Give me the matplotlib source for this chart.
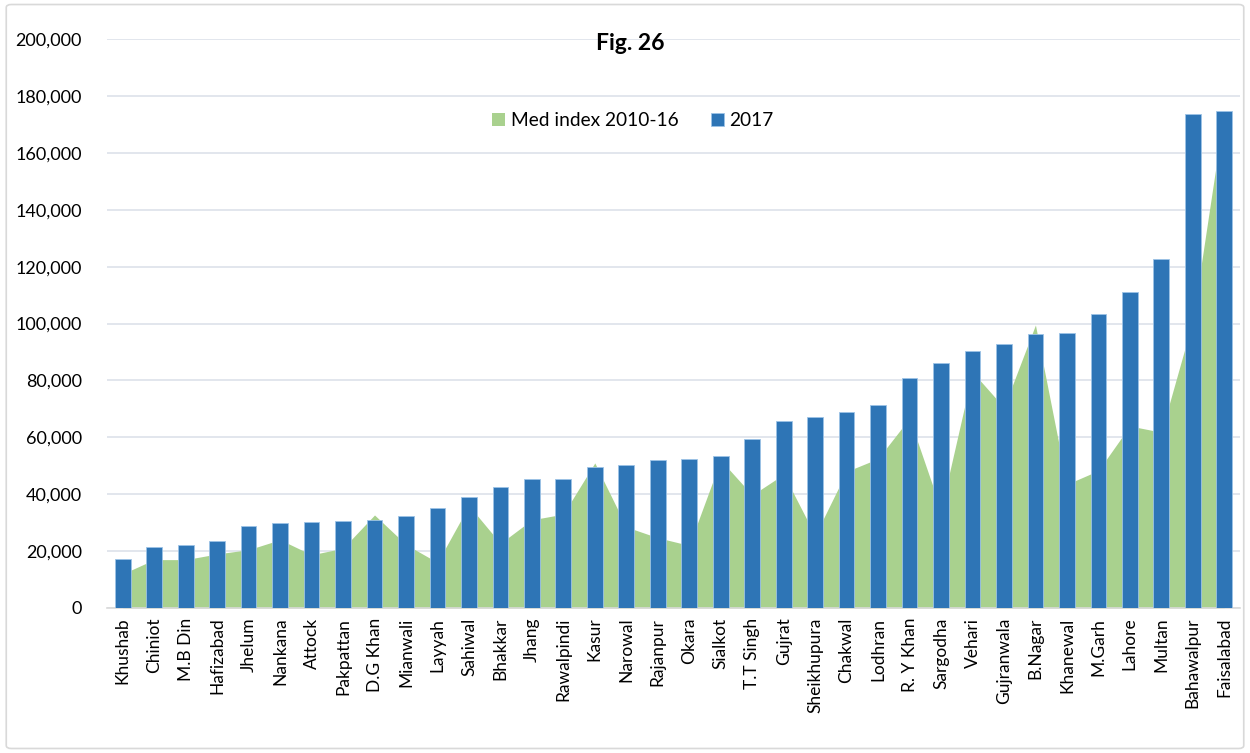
import matplotlib.pyplot as plt
from matplotlib.ticker import FuncFormatter
from matplotlib.patches import FancyBboxPatch

plt.rcParams['font.family'] = ['Lato', 'DejaVu Sans']

# districts, ordered by 2017 value
districts = ["Khushab", "Chiniot", "M.B Din", "Hafizabad", "Jhelum", "Nankana",
             "Attock", "Pakpattan", "D.G Khan", "Mianwali", "Layyah", "Sahiwal",
             "Bhakkar", "Jhang", "Rawalpindi", "Kasur", "Narowal", "Rajanpur",
             "Okara", "Sialkot", "T.T Singh", "Gujrat", "Sheikhupura", "Chakwal",
             "Lodhran", "R. Y Khan", "Sargodha", "Vehari", "Gujranwala", "B.Nagar",
             "Khanewal", "M.Garh", "Lahore", "Multan", "Bahawalpur", "Faisalabad"]

val_2017 = [17200, 21500, 22100, 23500, 28900, 29800, 30200, 30600, 31000, 32200,
            35300, 39100, 42400, 45200, 45300, 49600, 50300, 52000, 52400, 53400,
            59400, 65600, 67000, 68800, 71200, 81000, 86100, 90200, 92800, 96200,
            96800, 103200, 111200, 122700, 173800, 174900]

med_index = [12000, 17000, 17000, 19000, 20500, 24000, 18700, 21000, 32700, 22300,
             16000, 36000, 22700, 31000, 33000, 51000, 28500, 24700, 22000, 52000,
             39700, 47000, 25500, 48000, 52500, 66700, 34500, 83000, 70500, 99500,
             43500, 48300, 64000, 61800, 101000, 174500]

fig = plt.figure(figsize=(12.5, 7.53), dpi=100)
ax = fig.add_axes([0.0856, 0.1926, 0.9064, 0.7554])

x = list(range(len(districts)))
ax.fill_between(x, med_index, color="#A9D18E", linewidth=0, zorder=2,
                label="Med index 2010-16")
ax.bar(x, val_2017, width=0.5, color="#2E75B6", edgecolor="#9DC3E6",
       linewidth=0.6, zorder=3, label="2017")

ax.set_xlim(-0.5, 35.5)
ax.set_ylim(0, 200000)
ax.set_yticks(range(0, 200001, 20000))
ax.yaxis.set_major_formatter(FuncFormatter(lambda v, p: f"{int(v):,}"))
ax.grid(axis="y", color="#DDE2EA", linewidth=1.2, zorder=0)
ax.set_axisbelow(True)

ax.set_xticks(x)
ax.set_xticklabels(districts, rotation=90, fontsize=12.5)
ax.tick_params(axis="y", labelsize=13, length=0, pad=18)
ax.tick_params(axis="x", length=0, pad=7)
for s in ["top", "right", "left"]:
    ax.spines[s].set_visible(False)
ax.spines["bottom"].set_color("#D9D9D9")
ax.spines["bottom"].set_linewidth(1.2)

fig.text(630 / 1250, 1 - 44 / 753, "Fig. 26", ha="center", va="center",
         fontsize=16.5, fontweight="bold")

fig.legend(loc="center", bbox_to_anchor=(633 / 1250, 1 - 121 / 753), ncol=2,
           frameon=False, fontsize=13.8, handlelength=0.65, handleheight=0.65,
           columnspacing=1.7, handletextpad=0.3)

# chart border
fig.patches.append(FancyBboxPatch((0.005, 0.006), 0.99, 0.988,
                                  boxstyle="round,pad=0,rounding_size=0.004",
                                  transform=fig.transFigure, fill=False,
                                  edgecolor="#D9D9D9", linewidth=1.2))

plt.savefig("out.png", dpi=100)
